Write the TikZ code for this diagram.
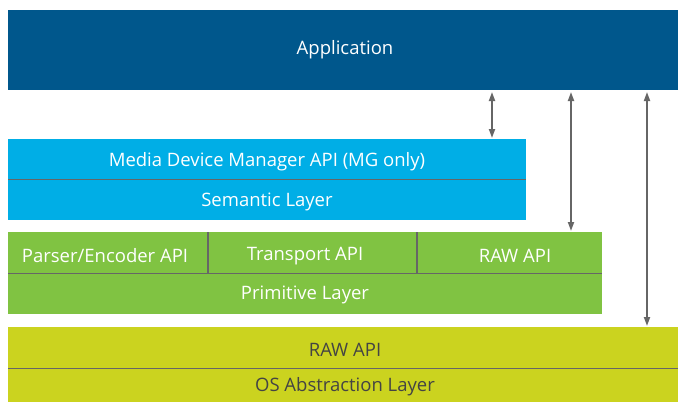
\documentclass[tikz,border=0pt]{standalone}
\usepackage{fontspec}
\setmainfont{Open Sans}
\usetikzlibrary{arrows.meta}
\definecolor{appblue}{HTML}{00578C}
\definecolor{semblue}{HTML}{00AEE6}
\definecolor{primgreen}{HTML}{80C342}
\definecolor{osyellow}{HTML}{CBD31F}
\definecolor{sepgray}{HTML}{666666}
\definecolor{darktext}{HTML}{444444}
\tikzset{
  lbl/.style={font=\fontsize{18.5}{20}\selectfont, anchor=center, inner sep=0pt},
  sep/.style={draw=sepgray, line width=1.6pt},
  link/.style={draw=sepgray, line width=1.8pt, {Triangle[width=6pt,length=9pt]}-{Triangle[width=6pt,length=9pt]}}
}
\begin{document}
\begin{tikzpicture}[x=1pt,y=-1pt]
\useasboundingbox (0,0) rectangle (678,402);
% Application
\fill[appblue] (8,10) rectangle (678,90);
\node[lbl, text=white] (app) at (345,50) {Application};
% Semantic
\fill[semblue] (8,139) rectangle (526,220);
\draw[sep] (8,179.5) -- (526,179.5);
\node[lbl, text=white] (mdm) at (267,162) {Media Device Manager API (MG only)};
\node[lbl, text=white] (sem) at (267,202) {Semantic Layer};
% Primitive
\fill[primgreen] (8,232) rectangle (602,314);
\draw[sep] (8,273.5) -- (602,273.5);
\draw[sep] (208,232) -- (208,273.5);
\draw[sep] (417,232) -- (417,273.5);
\node[lbl, text=white] (pe) at (105,256) {Parser/Encoder API};
\node[lbl, text=white] (tr) at (305,256) {Transport API};
\node[lbl, text=white] (raw1) at (515,256) {RAW API};
\node[lbl, text=white] (prim) at (305,295) {Primitive Layer};
% OS layer
\fill[osyellow] (8,327) rectangle (678,402);
\draw[sep] (8,368.5) -- (678,368.5);
\node[lbl, text=darktext] (raw2) at (345,350) {RAW API};
\node[lbl, text=darktext] (osal) at (345,387) {OS Abstraction Layer};
% connectors
\coordinate (a1t) at (492,92);
\coordinate (a1b) at (492,138);
\coordinate (a2t) at (571,92);
\coordinate (a2b) at (571,231);
\coordinate (a3t) at (647,92);
\coordinate (a3b) at (647,326);
\draw[link] (a1t) -- (a1b);
\draw[link] (a2t) -- (a2b);
\draw[link] (a3t) -- (a3b);
\end{tikzpicture}
\end{document}
